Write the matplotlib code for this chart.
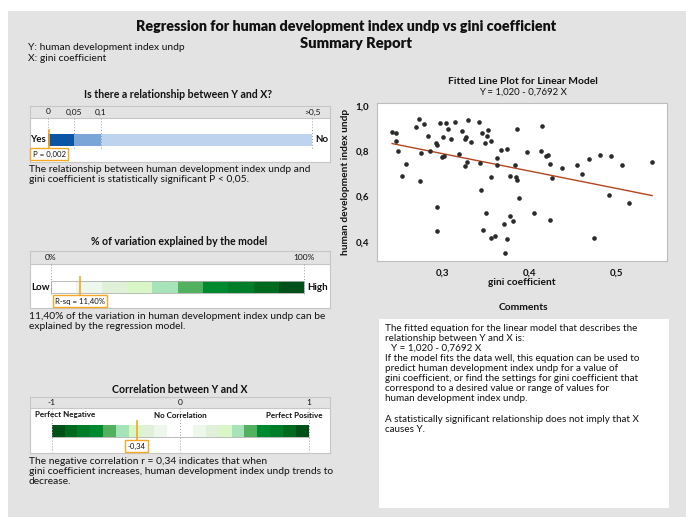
import numpy as np
import matplotlib
matplotlib.use("Agg")
import matplotlib.pyplot as plt

plt.rcParams['font.family'] = ['Lato', 'DejaVu Sans']

# ---- data ----
gini = [0.2425, 0.2467, 0.2467, 0.2498, 0.2533, 0.2579, 0.2697, 0.2732, 0.2743, 0.2755,
        0.2793, 0.2839, 0.2858, 0.2931, 0.2943, 0.2943, 0.2943, 0.2973, 0.2996, 0.3011,
        0.3019, 0.3042, 0.3065, 0.3096, 0.3149, 0.3195, 0.3222, 0.3261, 0.3272, 0.3264,
        0.3284, 0.3295, 0.3330, 0.3418, 0.3433, 0.3441, 0.3452, 0.3464, 0.3494, 0.3502,
        0.3510, 0.3529, 0.3559, 0.3559, 0.3556, 0.3602, 0.3632, 0.3632, 0.3670, 0.3709,
        0.3739, 0.3739, 0.3716, 0.3778, 0.3778, 0.3808, 0.3839, 0.3843, 0.3851, 0.3858,
        0.3874, 0.3966, 0.4046, 0.4130, 0.4146, 0.4192, 0.4207, 0.4238, 0.4238, 0.4261,
        0.4372, 0.4548, 0.4602, 0.4678, 0.4743, 0.4808, 0.4912, 0.4931, 0.5061, 0.5146,
        0.5406]
hdi = [0.884, 0.878, 0.846, 0.802, 0.690, 0.742, 0.908, 0.943, 0.667, 0.793,
       0.919, 0.867, 0.802, 0.834, 0.825, 0.553, 0.447, 0.925, 0.773, 0.861,
       0.778, 0.925, 0.896, 0.852, 0.927, 0.789, 0.891, 0.855, 0.861, 0.734,
       0.752, 0.937, 0.839, 0.930, 0.746, 0.629, 0.881, 0.453, 0.836, 0.526,
       0.869, 0.893, 0.846, 0.685, 0.418, 0.424, 0.737, 0.768, 0.805, 0.479,
       0.808, 0.412, 0.353, 0.690, 0.512, 0.494, 0.740, 0.685, 0.896, 0.673,
       0.594, 0.796, 0.529, 0.802, 0.913, 0.778, 0.784, 0.743, 0.497, 0.682,
       0.726, 0.740, 0.701, 0.764, 0.415, 0.783, 0.607, 0.778, 0.737, 0.573,
       0.754]
intercept, slope = 1.020, -0.7692
p_value = 0.002
r_sq = 11.40
corr = -0.34

p_bands = [(0, 0.05), (0.05, 0.1), (0.1, 0.5)]
p_ticks = [0, 0.05, 0.1, 0.5]
p_tick_labels = ['0', '0,05', '0,1', '>0,5']
rsq_edges = [0, 10, 20, 30, 40, 50, 60, 70, 80, 90, 100]
r_edges = [-1, -0.9, -0.8, -0.7, -0.6, -0.5, -0.4, -0.3, -0.2, -0.1, 0,
           0.1, 0.2, 0.3, 0.4, 0.5, 0.6, 0.7, 0.8, 0.9, 1]
x_ticks = [0.3, 0.4, 0.5]
x_tick_labels = ['0,3', '0,4', '0,5']
y_ticks = [0.4, 0.6, 0.8, 1.0]
y_tick_labels = ['0,4', '0,6', '0,8', '1,0']

# ---- styles ----
W, H = 686, 517
BG = '#e3e3e3'
EDGE = '#c6c6c6'
ORANGE = '#f5a623'
TXT = '#111111'
blues = ['#0a56a5', '#7aa5d8', '#bed3ee']
greens = ['#ffffff', '#eef7ec', '#e1f0d9', '#d9f6c7', '#a7e3b8',
          '#52b15e', '#008a30', '#007d28', '#006b1e', '#00501a']

fig = plt.figure(figsize=(W / 100, H / 100), dpi=100)
fig.patch.set_facecolor('white')


def fx(px):
    return px / W


def fy(py):
    return 1 - py / H


def add_ax(x0, y0, x1, y1):
    return fig.add_axes([x0 / W, 1 - y1 / H, (x1 - x0) / W, (y1 - y0) / H])


bg = add_ax(8, 11, 686, 517)
bg.set_facecolor(BG)
bg.set_xticks([]); bg.set_yticks([])
for s in bg.spines.values():
    s.set_visible(False)

def ftext(x, y, s, **kw):
    kw.setdefault('color', TXT)
    kw.setdefault('va', 'center')
    fig.text(fx(x), fy(y), s, **kw)

ftext(346, 27, 'Regression for human development index undp vs gini coefficient',
      ha='center', fontsize=10.3, fontweight='heavy')
ftext(356, 44, 'Summary Report', ha='center', fontsize=10.6, fontweight='heavy')
ftext(28, 47, 'Y: human development index undp', fontsize=7.4)
ftext(28, 58, 'X: gini coefficient', fontsize=7.4)


def panel(y0, y1, hdr, xlim):
    ax = add_ax(30, y0, 330, y1)
    ax.set_xlim(*xlim)
    ax.set_ylim(y1, y0)
    ax.set_facecolor('white')
    ax.set_xticks([]); ax.set_yticks([])
    for s in ax.spines.values():
        s.set_color(EDGE); s.set_linewidth(0.8)
    ax.axhspan(y0, y0 + hdr, color=BG, lw=0)
    ax.axhline(y0 + hdr, color=EDGE, lw=0.8)
    return ax


def marker(ax, val, ytop, ybot, label):
    ax.plot([val, val], [ytop, ybot], color=ORANGE, lw=1.2, zorder=5)
    ax.text(val, ybot + 5, label, ha='center', va='center', fontsize=5.6, color=TXT,
            zorder=6, bbox=dict(boxstyle='square,pad=0.3', fc='white', ec=ORANGE, lw=1))


# panel 1: p-value
ftext(178, 95, 'Is there a relationship between Y and X?', ha='center', fontsize=7.6, fontweight='bold')
ax1 = panel(106, 162, 12, (-0.0341, 0.534))
for t, lab in zip(p_ticks, p_tick_labels):
    ax1.text(t, 112, lab, ha='center', va='center', fontsize=6, color=TXT)
    ax1.plot([t, t], [118, 150], color='#9a9a9a', lw=0.7, ls=(0, (1, 2)))
for (a, b), c in zip(p_bands, blues):
    ax1.barh(139.9, b - a, left=a, height=11.7, color=c, lw=0)
marker(ax1, p_value, 130, 149, 'P = 0,002')
ftext(46, 139.9, 'Yes', ha='right', fontsize=7, fontweight='bold')
ftext(315, 139.9, 'No', ha='left', fontsize=7, fontweight='bold')
ftext(29, 169, 'The relationship between human development index undp and', fontsize=7.4)
ftext(29, 179.5, 'gini coefficient is statistically significant P < 0,05.', fontsize=7.4)

# panel 2: R-sq
ftext(179, 241.7, '% of variation explained by the model', ha='center', fontsize=7.6, fontweight='bold')
ax2 = panel(251, 308, 13, (-8.29, 110.1))
for t, lab in zip([0, 100], ['0%', '100%']):
    ax2.text(t, 257.5, lab, ha='center', va='center', fontsize=6, color=TXT)
    ax2.plot([t, t], [264, 294], color='#9a9a9a', lw=0.7, ls=(0, (1, 2)))
for a, b, c in zip(rsq_edges[:-1], rsq_edges[1:], greens):
    ax2.barh(287, b - a, left=a, height=12.6, color=c, lw=0)
ax2.barh(287, 100, left=0, height=12.6, fill=False, ec='#b0b0b0', lw=0.6)
marker(ax2, r_sq, 276.7, 296, 'R-sq = 11,40%')
ftext(49.5, 287, 'Low', ha='right', fontsize=7, fontweight='bold')
ftext(307, 287, 'High', ha='left', fontsize=7, fontweight='bold')
ftext(29, 316.7, '11,40% of the variation in human development index undp can be', fontsize=7.4)
ftext(29, 326.5, 'explained by the regression model.', fontsize=7.4)

# panel 3: correlation
ftext(180, 389.3, 'Correlation between Y and X', ha='center', fontsize=7.6, fontweight='bold')
ax3 = panel(397.3, 452.7, 10.4, (-1.169, 1.166))
for t, lab in zip([-1, 0, 1], ['-1', '0', '1']):
    ax3.text(t, 402.5, lab, ha='center', va='center', fontsize=6, color=TXT)
    ax3.plot([t, t], [408, 452], color='#9a9a9a', lw=0.7, ls=(0, (1, 2)))
r_colors = greens[::-1] + greens
for a, b, c in zip(r_edges[:-1], r_edges[1:], r_colors):
    ax3.barh(430.8, b - a, left=a, height=11.7, color=c, lw=0)
ax3.plot([-1, 1], [436.7, 436.7], color='#b0b0b0', lw=0.6)
ax3.text(-1.13, 415, 'Perfect Negative', ha='left', va='center', fontsize=5.8, fontweight='bold', color=TXT)
ax3.text(0, 415, 'No Correlation', ha='center', va='center', fontsize=5.8, fontweight='bold', color=TXT)
ax3.text(1.11, 415, 'Perfect Positive', ha='right', va='center', fontsize=5.8, fontweight='bold', color=TXT)
marker(ax3, corr, 420.7, 441, '-0,34')
ftext(29, 461, 'The negative correlation r = 0,34 indicates that when', fontsize=7.4)
ftext(29, 471, 'gini coefficient increases, human development index undp trends to', fontsize=7.4)
ftext(29, 481, 'decrease.', fontsize=7.4)

# fitted line plot
ftext(522.7, 81, 'Fitted Line Plot for Linear Model', ha='center', fontsize=7.4, fontweight='bold')
ftext(522.7, 92, 'Y = 1,020 - 0,7692 X', ha='center', fontsize=6.9)
ax = add_ax(377.3, 103.3, 667.3, 260.7)
ax.set_facecolor('white')
ax.scatter(gini, hdi, s=11, color='#2b2b2b', lw=0, zorder=3)
xl = np.array([min(gini), max(gini)])
ax.plot(xl, intercept + slope * xl, color='#b5441f', lw=1, zorder=2)
ax.set_xlim(0.2255, 0.558)
ax.set_ylim(0.317, 1.011)
ax.set_xticks(x_ticks)
ax.set_xticklabels(x_tick_labels, fontsize=7, fontweight='bold', color=TXT)
ax.set_yticks(y_ticks)
ax.set_yticklabels(y_tick_labels, fontsize=7, fontweight='bold', color=TXT)
ax.tick_params(length=0, pad=6)
for s in ax.spines.values():
    s.set_color('#bdbdbd'); s.set_linewidth(0.8)
ax.set_xlabel('gini coefficient', fontsize=7.3, fontweight='bold', color=TXT, labelpad=0)
ax.set_ylabel('human development index undp', fontsize=7.3, fontweight='bold', color=TXT, labelpad=4)

# comments
ftext(523.3, 307.7, 'Comments', ha='center', fontsize=7.4, fontweight='bold')
cb = add_ax(379, 319, 669, 508)
cb.set_facecolor('white')
cb.set_xticks([]); cb.set_yticks([])
for s in cb.spines.values():
    s.set_visible(False)
comment_lines = [
    (385, 328.3, 'The fitted equation for the linear model that describes the'),
    (385, 338.3, 'relationship between Y and X is:'),
    (390.7, 348.2, 'Y = 1,020 - 0,7692 X'),
    (385, 358.2, 'If the model fits the data well, this equation can be used to'),
    (385, 368.2, 'predict human development index undp for a value of'),
    (385, 378.2, 'gini coefficient, or find the settings for gini coefficient that'),
    (385, 388.2, 'correspond to a desired value or range of values for'),
    (385, 398.2, 'human development index undp.'),
    (385, 419, 'A statistically significant relationship does not imply that X'),
    (385, 429, 'causes Y.'),
]
for x, y, s in comment_lines:
    ftext(x, y, s, fontsize=7.1)

fig.savefig('out.png', dpi=100)
